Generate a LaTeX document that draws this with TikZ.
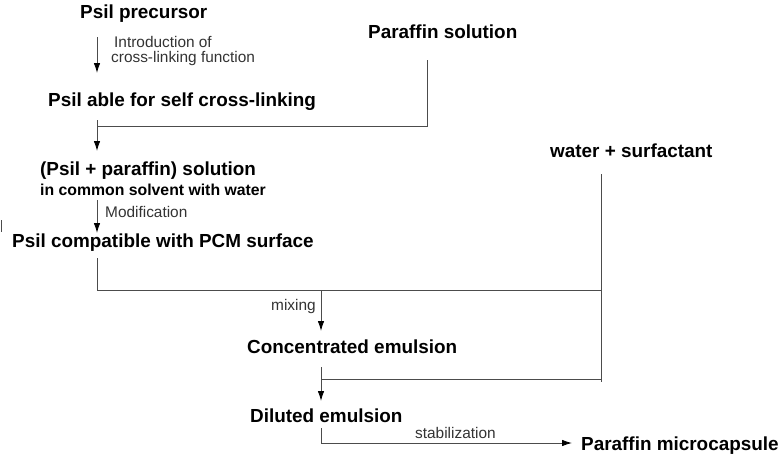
\documentclass[tikz,border=0pt]{standalone}
\usepackage{fontspec}
\setmainfont{Liberation Sans}
\usetikzlibrary{arrows.meta}

\begin{document}
\begin{tikzpicture}[x=1pt, y=-1pt]
  \tikzstyle{every node} = [inner sep = 0, anchor = base west]
  \tikzstyle{stage} = [font = \fontsize{18.9}{21}\selectfont\bfseries]
  \tikzstyle{substage} = [font = \fontsize{15.8}{18}\selectfont\bfseries]
  \tikzstyle{process} = [font = \fontsize{15.4}{17}\selectfont, text = black!80]
  \tikzstyle{link} = [draw = black!70, line width = 0.9pt]
  \tikzstyle{flow} = [link, -{Latex[length=10pt, width=6.5pt, black]}]
\useasboundingbox (0,0) rectangle (782,455);

\node[stage] (precursor) at (80,18) {Psil precursor};
\node[process] (intro) at (114,47) {Introduction of};
\node[process] (crossfun) at (111,62) {cross-linking function};
\node[stage] (selfcl) at (48,106) {Psil able for self cross-linking};
\node[stage] (parsol) at (368,38) {Paraffin solution};
\node[stage] (mixsol) at (40,175) {(Psil + paraffin) solution};
\node[substage] (solvent) at (40,195) {in common solvent with water};
\node[process] (modif) at (105,217) {Modification};
\node[stage] (compat) at (12,247) {Psil compatible with PCM surface};
\node[stage] (water) at (550,157) {water + surfactant};
\node[process] (mixing) at (271,310) {mixing};
\node[stage] (conc) at (247,353) {Concentrated emulsion};
\node[stage] (dil) at (250,422) {Diluted emulsion};
\node[process] (stab) at (415,438) {stabilization};
\node[stage] (capsule) at (581,450) {Paraffin microcapsule};

\coordinate (pre-out) at (97,37);
\coordinate (scl-in) at (97,73);
\coordinate (scl-out) at (97,120);
\coordinate (par-out) at (427,60);
\coordinate (par-join) at (427,126);
\coordinate (mix-in) at (97,151);
\coordinate (mix-out) at (97,200);
\coordinate (cmp-in) at (97,233);
\coordinate (cmp-out) at (97,258);
\coordinate (cmp-join) at (97,290);
\coordinate (wat-out) at (601,174);
\coordinate (wat-join) at (601,382);
\coordinate (con-in) at (321,331);
\coordinate (con-out) at (321,367);
\coordinate (dil-in) at (321,401);
\coordinate (dil-out) at (321,428);
\coordinate (cap-in) at (572,443);
\coordinate (tick) at (1.5,220);

\draw[flow] (pre-out) -- (scl-in);
\draw[flow] (scl-out) -- (mix-in);
\draw[link] (par-out) -- (par-join) -- (scl-out |- par-join);
\draw[flow] (mix-out) -- (cmp-in);
\draw[link] (cmp-out) -- (cmp-join) -- (wat-out |- cmp-join);
\draw[link] (wat-out) -- (wat-join);
\draw[flow] (con-in |- cmp-join) -- (con-in);
\draw[flow] (con-out) -- (dil-in);
\draw[link] (con-out |- 0,379) -- (wat-out |- 0,379);
\draw[flow] (dil-out) -- (dil-out |- cap-in) -- (cap-in);
\draw[link] (tick) -- ++(0,12);

\end{tikzpicture}
\end{document}
